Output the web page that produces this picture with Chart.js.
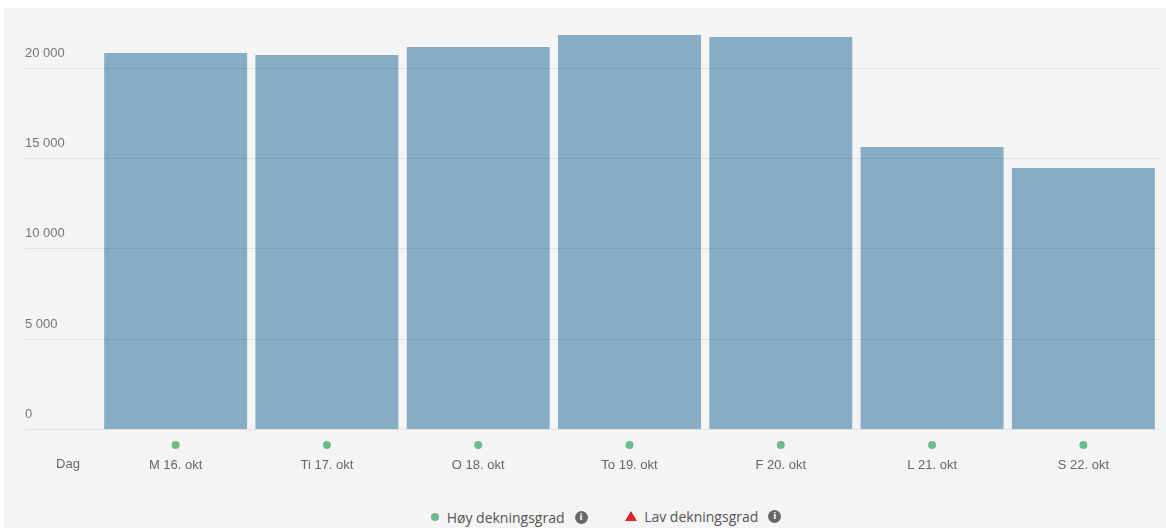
<!DOCTYPE html>
<html>
<head>
<meta charset="utf-8">
<script src="https://cdn.jsdelivr.net/npm/chart.js@4.4.1/dist/chart.umd.min.js"></script>
<style>
  html, body { margin: 0; padding: 0; background: #fff; }
  #wrap {
    position: absolute; left: 4px; top: 8px; width: 1162px; height: 520px;
    background: #f4f4f4;
  }
  #box { position: absolute; left: 0; top: 0; width: 1162px; height: 472px; }
  #legend {
    position: absolute; left: 42px; right: 0; top: 498px; text-align: center;
    font-family: "Open Sans", sans-serif; font-size: 14px; color: #555;
  }
  #legend span.item { display: inline-flex; align-items: center; margin: 0 17px; }
  .dot { width: 8px; height: 8px; border-radius: 50%; background: #6dbb86; margin-right: 8px; }
  .tri { width: 0; height: 0; border-left: 6px solid transparent; border-right: 6px solid transparent;
         border-bottom: 10px solid #d8262b; margin-right: 7px; }
  .info { width: 13px; height: 13px; border-radius: 50%; background: #666; color: #f4f4f4;
          font: bold 9px "DejaVu Sans", sans-serif; line-height: 13px; text-align: center; margin-left: 10px; }
</style>
</head>
<body>
<div id="wrap">
  <div id="box"><canvas id="myChart"></canvas></div>
  <div id="legend">
    <span class="item"><span class="dot"></span>Høy dekningsgrad<span class="info">i</span></span>
    <span class="item"><span class="tri"></span>Lav dekningsgrad<span class="info">i</span></span>
  </div>
</div>
<script>
// data
const days = ["M 16. okt", "Ti 17. okt", "O 18. okt", "To 19. okt", "F 20. okt", "L 21. okt", "S 22. okt"];
const values = [20830, 20720, 21160, 21830, 21720, 15630, 14470];
const coverage = ["høy", "høy", "høy", "høy", "høy", "høy", "høy"];
const yTicks = [0, 5000, 10000, 15000, 20000];
const axisName = "Dag";

const coverageColors = { "høy": "#6dbb86", "lav": "#d8262b" };

// green dot under each day + the "Dag" label on the left
const dayMarks = {
    id: 'dayMarks',
    afterDraw(chart) {
        const ctx = chart.ctx;
        const x = chart.scales.x;
        const y0 = chart.chartArea.bottom;
        ctx.save();
        days.forEach((d, i) => {
            ctx.beginPath();
            ctx.arc(x.getPixelForValue(i), y0 + 15.5, 4, 0, Math.PI * 2);
            ctx.fillStyle = coverageColors[coverage[i]];
            ctx.fill();
        });
        ctx.font = '13px "Liberation Sans", Arial, sans-serif';
        ctx.fillStyle = '#666';
        ctx.textAlign = 'center';
        ctx.textBaseline = 'middle';
        ctx.fillText(axisName, 64, y0 + 34.5);
        ctx.restore();
    }
};

const grapharea = document.getElementById("myChart");
grapharea.chart = new Chart(grapharea, {
    type: "bar",
    data: {
        labels: days,
        datasets: [{
            data: values,
            backgroundColor: "#87adc4",
            barPercentage: 1,
            categoryPercentage: 0.945
        }]
    },
    options: {
        responsive: true,
        maintainAspectRatio: false,
        animation: false,
        layout: { padding: { left: 21, right: 7, top: 23.85, bottom: 0 } },
        scales: {
            x: {
                grid: { display: false },
                border: { display: false },
                afterFit(scale) { scale.height = 50.5; },
                ticks: {
                    padding: 20,
                    color: '#666',
                    font: { family: '"Liberation Sans", Arial, sans-serif', size: 13 },
                    maxRotation: 0
                }
            },
            y: {
                min: 0,
                max: 22000,
                afterFit(scale) { scale.width = 75; },
                afterBuildTicks(scale) { scale.ticks = yTicks.map(v => ({ value: v })); },
                border: { display: false },
                grid: {
                    color: 'rgba(0,0,0,0.075)',
                    tickLength: 75,
                    tickColor: 'rgba(0,0,0,0.075)',
                    z: 1
                },
                ticks: {
                    crossAlign: 'far',
                    padding: 0,
                    labelOffset: -15,
                    color: '#777',
                    font: { family: '"Liberation Sans", Arial, sans-serif', size: 13 },
                    callback: v => String(v).replace(/\B(?=(\d{3})+(?!\d))/g, ' ')
                }
            }
        },
        plugins: {
            legend: { display: false },
            tooltip: { enabled: false }
        }
    },
    plugins: [dayMarks]
});
</script>
</body>
</html>
